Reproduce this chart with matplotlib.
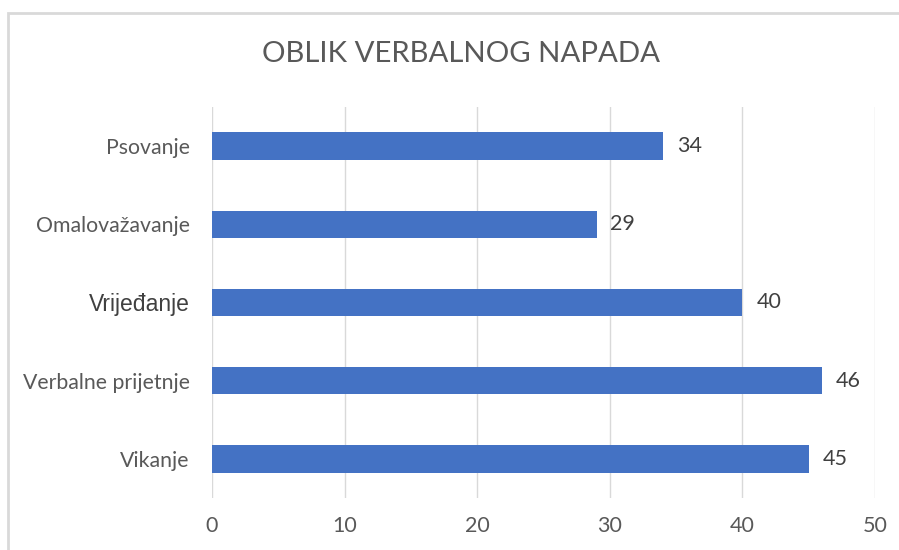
import matplotlib
matplotlib.use("Agg")
import matplotlib.pyplot as plt
from matplotlib.patches import Rectangle

categories = ["Psovanje", "Omalovažavanje", "Vrijeđanje", "Verbalne prijetnje", "Vikanje"]
values = [34, 29, 40, 46, 45]
xticks = [0, 10, 20, 30, 40, 50]
title = "OBLIK VERBALNOG NAPADA"

plt.rcParams['font.family'] = ['Lato', 'DejaVu Sans']
GRAY = "#595959"
BAR = "#4472C4"

fig = plt.figure(figsize=(8.99, 5.5), dpi=100)
fig.patch.set_facecolor("white")
# chart border
fig.add_artist(Rectangle((8/899, -0.05), 1.0, 1 - 13/550 + 0.05, transform=fig.transFigure,
                         fill=False, edgecolor="#D9D9D9", linewidth=2.0))

ax = fig.add_axes([212/899, 1 - 498/550, (875 - 212)/899, (498 - 107)/550])
y = list(range(len(categories)))
ax.barh(y, values, height=0.35, color=BAR, zorder=3)
ax.set_ylim(len(categories) - 0.5, -0.5)
ax.set_xlim(0, 50)
ax.set_xticks(xticks)
ax.set_xticklabels([str(t) for t in xticks], fontsize=15.5, color=GRAY)
ax.tick_params(axis='x', length=0, pad=13)
ax.tick_params(axis='y', length=0, pad=16)
ax.set_yticks(y)
ax.set_yticklabels(categories, fontsize=15.3, color=GRAY)
for lbl in ax.get_yticklabels():
    if lbl.get_text() == "Vrijeđanje":
        lbl.set_fontfamily(['Liberation Sans', 'DejaVu Sans'])
        lbl.set_fontsize(16.5)
        lbl.set_color("#404040")
ax.grid(axis='x', color="#D9D9D9", linewidth=1.0, zorder=0)
for s in ax.spines.values():
    s.set_visible(False)

for yi, v in zip(y, values):
    ax.text(v + 1.05, yi, str(v), va='center', ha='left', fontsize=15.5, color="#404040")

fig.text(461/899, 1 - 54/550, title, ha='center', va='center', fontsize=21.2, color=GRAY)

fig.savefig("out.png", dpi=100)
